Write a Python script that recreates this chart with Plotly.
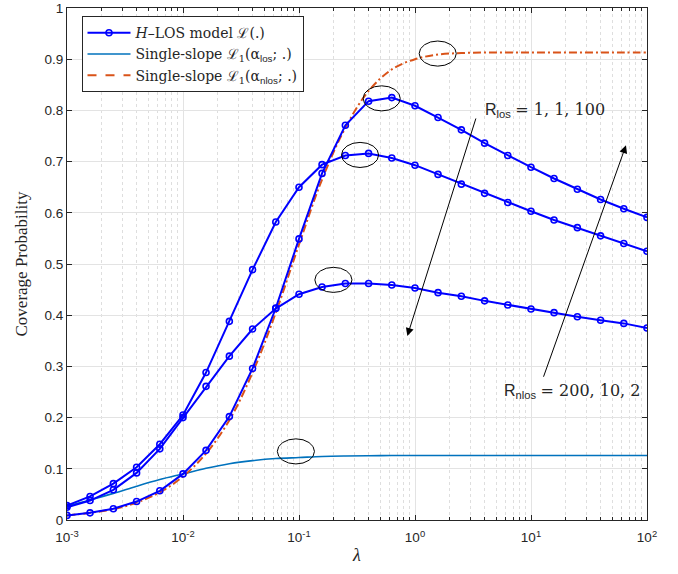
import plotly.graph_objects as go

# ---------------- data ----------------
lam = [0.001, 0.00158, 0.00251, 0.00398, 0.00631, 0.01, 0.0158, 0.0251, 0.0398, 0.0631,
       0.1, 0.158, 0.251, 0.398, 0.631, 1, 1.58, 2.51, 3.98, 6.31,
       10, 15.8, 25.1, 39.8, 63.1, 100]

hlos_a = [0.009, 0.014, 0.022, 0.036, 0.057, 0.090, 0.136, 0.202, 0.296, 0.414,
          0.549, 0.677, 0.771, 0.818, 0.825, 0.809, 0.786, 0.762, 0.736, 0.712,
          0.689, 0.667, 0.646, 0.626, 0.608, 0.591]
hlos_b = [0.028, 0.046, 0.071, 0.103, 0.148, 0.205, 0.288, 0.388, 0.489, 0.582,
          0.650, 0.694, 0.712, 0.716, 0.707, 0.693, 0.675, 0.656, 0.638, 0.620,
          0.603, 0.586, 0.571, 0.555, 0.540, 0.525]
hlos_c = [0.025, 0.038, 0.059, 0.092, 0.139, 0.200, 0.261, 0.320, 0.373, 0.413,
          0.441, 0.455, 0.462, 0.462, 0.459, 0.453, 0.444, 0.437, 0.428, 0.420,
          0.412, 0.405, 0.397, 0.390, 0.384, 0.375]
single_los = [0.027, 0.039, 0.052, 0.066, 0.079, 0.090, 0.101, 0.110, 0.116, 0.120,
              0.122, 0.124, 0.125, 0.1255, 0.126, 0.126, 0.126, 0.126, 0.126, 0.126,
              0.126, 0.126, 0.126, 0.126, 0.126, 0.126]
single_nlos = [0.009, 0.014, 0.021, 0.034, 0.054, 0.085, 0.130, 0.195, 0.288, 0.405,
               0.538, 0.665, 0.766, 0.838, 0.880, 0.900, 0.909, 0.912, 0.913, 0.913,
               0.913, 0.913, 0.913, 0.913, 0.913, 0.913]

x_tickvals = [1e-3, 1e-2, 1e-1, 1e0, 1e1, 1e2]
x_ticktext = ["10<sup>-3</sup>", "10<sup>-2</sup>", "10<sup>-1</sup>",
              "10<sup>0</sup>", "10<sup>1</sup>", "10<sup>2</sup>"]
x_minor = [m * d for d in [1e-3, 1e-2, 1e-1, 1e0, 1e1] for m in range(2, 10)]

# ellipse annotations: centre (lambda, value)
ellipses = [(1.57, 0.911), (0.516, 0.8235), (0.336, 0.713), (0.198, 0.469), (0.094, 0.134)]
ell_half_decades = 0.16   # half width in decades of lambda
ell_half_height = 0.0245  # half height in probability units

# ---------------- figure ----------------
BLUE = "rgb(0,0,255)"
LOSC = "#0072BD"
NLOSC = "#D95319"
SERIF = "Liberation Serif"
LSERIF = "DejaVu Serif"
SANS = "Liberation Sans"
INK = "#262626"

fig = go.Figure()
fig.add_trace(go.Scatter(x=lam, y=single_los, mode="lines", line=dict(color=LOSC, width=1.6, shape="spline"),
                         showlegend=False, hoverinfo="skip"))
fig.add_trace(go.Scatter(x=lam, y=single_nlos, mode="lines",
                         line=dict(color=NLOSC, width=2, dash="8px,3px,2px,3px", shape="spline"),
                         showlegend=False, hoverinfo="skip"))
for i, ys in enumerate([hlos_a, hlos_b, hlos_c]):
    fig.add_trace(go.Scatter(
        x=lam, y=ys, mode="lines+markers",
        line=dict(color=BLUE, width=2),
        marker=dict(symbol="circle-open", size=6, color=BLUE, line=dict(width=1.6, color=BLUE)),
        name="<i>H</i>–LOS model ℒ(.)", showlegend=(i == 0)))
fig.add_trace(go.Scatter(x=[None], y=[None], mode="lines", line=dict(color=LOSC, width=1.6),
                         name="Single-slope ℒ<sub>1</sub>(α<sub><span style='font-family:Liberation Sans'>los</span></sub>; .)"))
fig.add_trace(go.Scatter(x=[None], y=[None], mode="lines", line=dict(color=NLOSC, width=2, dash="dash"),
                         name="Single-slope ℒ<sub>1</sub>(α<sub><span style='font-family:Liberation Sans'>nlos</span></sub>; .)"))

f = 10 ** ell_half_decades
shapes = []
for (lx, ly) in ellipses:
    shapes.append(dict(type="circle", xref="x", yref="y",
                       x0=lx / f, x1=lx * f, y0=ly - ell_half_height, y1=ly + ell_half_height,
                       line=dict(color="black", width=1)))

annotations = [
    dict(x=0.589, y=0.80, xref="x", yref="y", xanchor="left", yanchor="middle", showarrow=False,
         text="R<sub>los</sub> <span style='font-family:DejaVu Serif'>= 1, 1, 100</span>",
         font=dict(family=SANS, size=16, color=INK)),
    dict(x=0.747, y=0.2525, xref="x", yref="y", xanchor="left", yanchor="middle", showarrow=False,
         text="R<sub>nlos</sub> <span style='font-family:DejaVu Serif'>= 200, 10, 2</span>",
         font=dict(family=SANS, size=16, color=INK)),
    dict(x=-0.066, y=0.3594, xref="x", yref="y", text="", showarrow=True, ax=69, ay=-219,
         arrowhead=2, arrowsize=1.6, arrowwidth=1, arrowcolor="black"),
    dict(x=1.819, y=0.732, xref="x", yref="y", text="", showarrow=True, ax=-83, ay=233,
         arrowhead=2, arrowsize=1.6, arrowwidth=1, arrowcolor="black"),
]

axis_common = dict(showline=True, linecolor=INK, linewidth=1, mirror="ticks",
                   ticks="inside", tickcolor=INK, ticklen=5, automargin=False,
                   showgrid=True, gridcolor="#e3e3e3", gridwidth=1, zeroline=False,
                   tickfont=dict(family=SANS, size=13.5, color=INK))

fig.update_layout(
    width=678, height=574,
    margin=dict(l=67, r=31, t=8, b=54),
    plot_bgcolor="white", paper_bgcolor="white",
    xaxis=dict(type="log", range=[-3, 2], tickvals=x_tickvals, ticktext=x_ticktext,
               ticklabelstandoff=5,
               minor=dict(tickvals=x_minor, ticks="inside", ticklen=3, tickcolor=INK,
                          showgrid=True, gridcolor="#dedede", griddash="dot", gridwidth=1),
               title=dict(text="<i>λ</i>", font=dict(family=SERIF, size=18, color=INK), standoff=4),
               **axis_common),
    yaxis=dict(range=[0, 1], dtick=0.1,
               title=dict(text="Coverage Probability", font=dict(family=SERIF, size=17, color=INK), standoff=12),
               **axis_common),
    legend=dict(x=0.025, y=0.984, xanchor="left", yanchor="top", bgcolor="white",
                bordercolor=INK, borderwidth=1, tracegroupgap=0, itemwidth=43,
                font=dict(family=LSERIF, size=14, color=INK)),
    shapes=shapes, annotations=annotations,
)

fig.write_html("out.html")
